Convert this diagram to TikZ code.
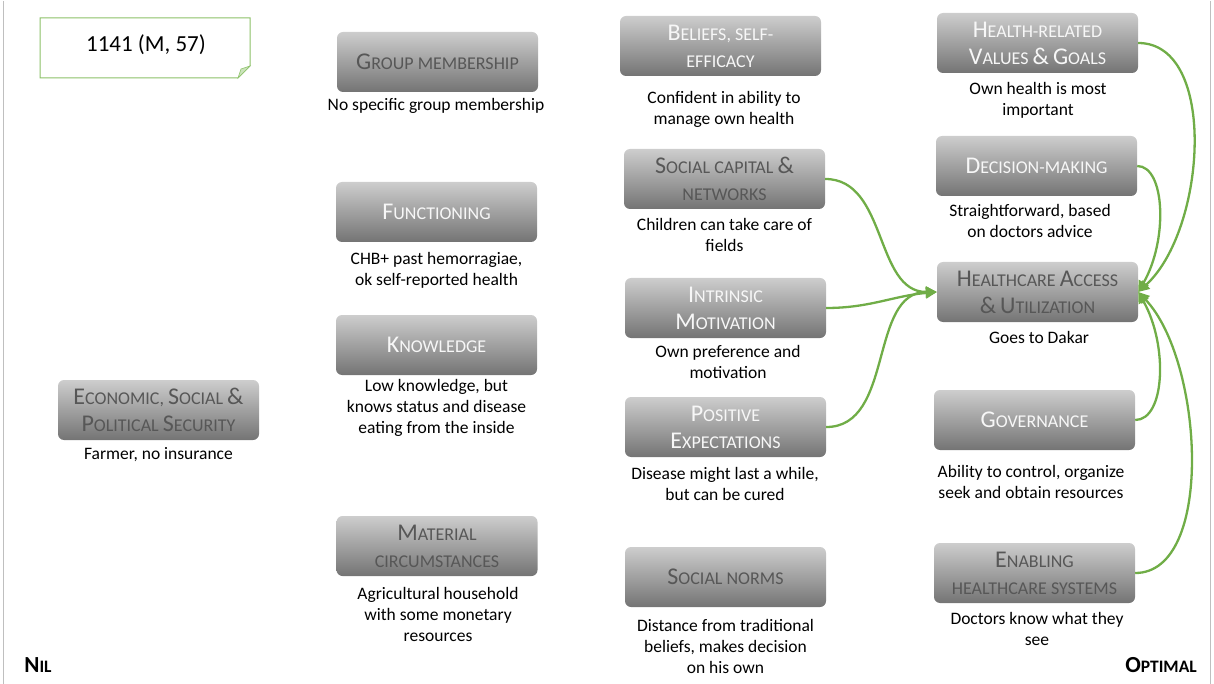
\documentclass[tikz,border=0pt]{standalone}
\usepackage{fontspec}
\setmainfont{Carlito}
\usetikzlibrary{arrows.meta}
\definecolor{linkgreen}{HTML}{70AD47}
\definecolor{notegreen}{HTML}{8CC168}
\definecolor{lighttxt}{HTML}{F7F7F7}
\definecolor{darktxt}{HTML}{575757}
\definecolor{boxtop}{HTML}{CDCDCD}
\definecolor{boxbot}{HTML}{747474}
% large initial letter of a small-caps title
\newcommand\initcap[1]{{\fontsize{24}{27}\selectfont #1}}
\newcommand\initcapb[1]{{\fontsize{23}{24}\selectfont #1}}
\tikzset{
  factor/.style={rounded corners=6pt, minimum width=201pt, minimum height=60pt,
    top color=boxtop, bottom color=boxbot, draw=none, align=center, inner sep=0pt,
    font=\fontsize{18}{27}\selectfont},
  lt/.style={text=lighttxt},
  dk/.style={text=darktxt},
  descr/.style={anchor=north, align=center, inner sep=0pt, yshift=-3pt,
    font=\fontsize{17.5}{21}\selectfont},
  link/.style={draw=linkgreen, line width=2.3pt,
    -{Triangle[length=11pt,width=11pt]}},
  endlabel/.style={inner sep=0pt, font=\bfseries\fontsize{17.5}{20}\selectfont}
}
\begin{document}
\begin{tikzpicture}[x=1pt,y=-1pt]
\useasboundingbox (0,0) rectangle (1214,684);
\draw[black!25, line width=0.8pt] (3,1) -- (3,684);
\draw[black!25, line width=0.8pt] (1210,1) -- (1210,684);

% case note with folded corner
\draw[notegreen, line width=1pt, fill=white]
  (40,18) -- (250,18) -- (250,66) -- (238,78) -- (40,78) -- cycle;
\fill[notegreen!45, draw=notegreen, line width=0.6pt]
  (238,78) -- (241,69) -- (250,66) -- cycle;
\node[inner sep=0pt, font=\fontsize{23}{26}\selectfont] (case) at (146,45) {1141 (M, 57)};

% column 1
\node[factor, dk] (gm) at (437.5,62) {\initcap{G}ROUP MEMBERSHIP};
\node[descr] (gmd) at (436,95) {No specific group membership};

\node[factor, lt] (fn) at (436.5,212) {\initcap{F}UNCTIONING};
\node[descr] (fnd) at (436.5,249) {CHB+ past hemorragiae,\\ok self-reported health};

\node[factor, lt] (kn) at (436.5,345) {\initcap{K}NOWLEDGE};
\node[descr] (knd) at (436.5,376) {Low knowledge, but\\knows status and disease\\eating from the inside};

\node[factor, dk] (ec) at (158.5,410) {\initcap{E}CONOMIC, \initcap{S}OCIAL \initcap{\&}\\\initcap{P}OLITICAL \initcap{S}ECURITY};
\node[descr] (ecd) at (158.5,444) {Farmer, no insurance};

\node[factor, dk] (mc) at (437,546) {\initcap{M}ATERIAL\\CIRCUMSTANCES};
\node[descr] (mcd) at (438,584) {Agricultural household\\with some monetary\\resources};

% column 2
\node[factor, lt] (be) at (720.5,46) {\initcap{B}ELIEFS, SELF-\\EFFICACY};
\node[descr] (bed) at (724,88) {Confident in ability to\\manage own health};

\node[factor, dk] (scn) at (724.5,179) {\initcap{S}OCIAL CAPITAL \initcap{\&}\\NETWORKS};
\node[descr] (scnd) at (724.5,215) {Children can take care of\\fields};

\node[factor, lt] (im) at (725.5,308) {\initcap{I}NTRINSIC\\\initcap{M}OTIVATION};
\node[descr] (imd) at (728,342) {Own preference and\\motivation};

\node[factor, lt] (pe) at (725.5,427) {\initcap{P}OSITIVE\\\initcap{E}XPECTATIONS};
\node[descr] (ped) at (725,464) {Disease might last a while,\\but can be cured};

\node[factor, dk] (sn) at (725.5,577) {\initcap{S}OCIAL NORMS};
\node[descr] (snd) at (725.5,616) {Distance from traditional\\beliefs, makes decision\\on his own};

% column 3
\node[factor, lt] (hv) at (1037.5,43) {\initcap{H}EALTH-RELATED\\\initcap{V}ALUES \initcap{\&} \initcap{G}OALS};
\node[descr] (hvd) at (1038,79) {Own health is most\\important};

\node[factor, lt] (dm) at (1036.5,166) {\initcap{D}ECISION-MAKING};
\node[descr] (dmd) at (1030,201) {Straightforward, based\\on doctors advice};

\node[factor, dk] (ha) at (1037.5,292) {\initcap{H}EALTHCARE \initcap{A}CCESS\\\initcap{\&} \initcap{U}TILIZATION};
\node[descr] (had) at (1039,328) {Goes to Dakar};

\node[factor, lt] (gv) at (1034.5,420) {\initcap{G}OVERNANCE};
\node[descr] (gvd) at (1031,462) {Ability to control, organize\\seek and obtain resources};

\node[factor, dk] (en) at (1034.5,573) {\initcap{E}NABLING\\HEALTHCARE SYSTEMS};
\node[descr] (ensd) at (1037,609) {Doctors know what they\\see};

% scale ends
\node[endlabel] (nil) at (38,665) {\initcapb{N}IL};
\node[endlabel] (opt) at (1161,665) {\initcapb{O}PTIMAL};

% links into healthcare access
\draw[link] (scn.east) to[out=0,in=180] (ha.west);
\draw[link] (im.east) to[out=0,in=185] (ha.west);
\draw[link] (pe.east) to[out=0,in=180] (ha.west);
\draw[link] (hv.east) .. controls +(80,0) and +(68,-62) .. (ha.east);
\draw[link] (dm.east) .. controls +(28,0) and +(30,-52) .. (ha.east);
\draw[link] (gv.east) .. controls +(30,0) and +(30,53) .. (ha.east);
\draw[link] (en.east) .. controls +(80,0) and +(65,68) .. (ha.east);
\end{tikzpicture}
\end{document}
